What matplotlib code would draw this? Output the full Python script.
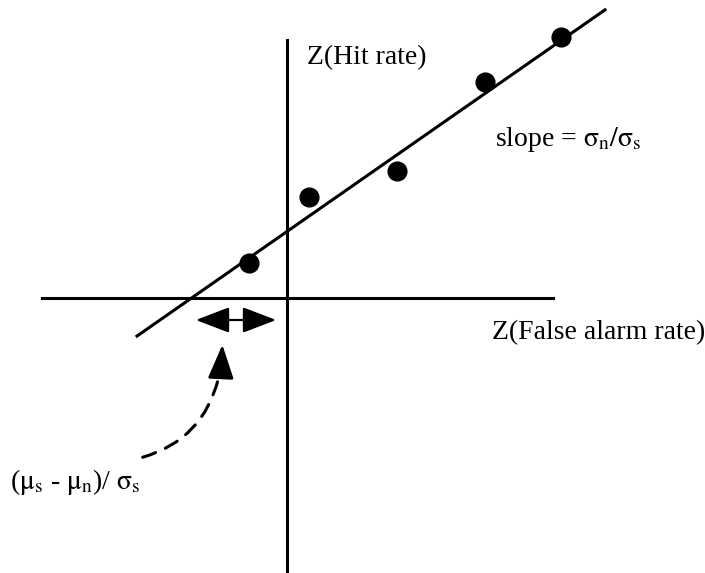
import numpy as np
import matplotlib.pyplot as plt
from matplotlib.patches import FancyArrowPatch

plt.rcParams['font.family'] = 'Liberation Serif'
plt.rcParams['mathtext.fontset'] = 'stix'

# z-scores of (false alarm rate, hit rate) pairs
z_fa = [-0.38, 0.22, 1.10, 1.98, 2.74]
z_hit = [0.35, 1.01, 1.27, 2.16, 2.61]

# fitted ROC line in z coordinates
fit_slope = 0.697
fit_icpt = 0.665
fit_x = [-1.50, 3.18]

fig = plt.figure(figsize=(7.05, 5.73), dpi=100)
ax = fig.add_axes([0, 0, 1, 1])
ax.set_xlim(-2.87, 4.18)
ax.set_ylim(-2.75, 2.98)
ax.axis('off')

# axes cross
ax.plot([-2.45, 2.66], [0, 0], color='black', lw=2.2)
ax.plot([0, 0], [-2.8, 2.58], color='black', lw=2.2)

fx = np.array(fit_x)
ax.plot(fx, fit_slope * fx + fit_icpt, color='black', lw=2.2)
ax.plot(z_fa, z_hit, 'o', color='black', markersize=13.5)

# distance between the line's x-intercept and the origin
arr = FancyArrowPatch((-0.08, -0.22), (-0.94, -0.22),
                      arrowstyle='<|-|>,head_length=21,head_width=8',
                      color='black', lw=1.6, mutation_scale=1)
ax.add_patch(arr)

# dashed pointer from the label up to the arrow
curve = FancyArrowPatch((-1.47, -1.60), (-0.68, -0.78),
                        connectionstyle='arc3,rad=0.3', arrowstyle='-',
                        color='black', lw=2.2, linestyle=(0, (4.5, 3.5)))
ax.add_patch(curve)
head = FancyArrowPatch((-0.66, -0.76), (-0.645, -0.44),
                       arrowstyle='-|>,head_length=21,head_width=8',
                       color='black', lw=2, mutation_scale=1)
ax.add_patch(head)

fs = 20
ax.text(0.20, 2.40, 'Z(Hit rate)', fontsize=fs, va='center')
ax.text(2.08, 1.58, r'slope = $\mathrm{σ}_\mathrm{n}/\mathrm{σ}_\mathrm{s}$', fontsize=fs, va='center')
ax.text(2.05, -0.35, 'Z(False alarm rate)', fontsize=fs, va='center')
ax.text(-2.77, -1.84, r'($\mathrm{μ}_\mathrm{s}$ - $\mathrm{μ}_\mathrm{n}$)/ $\mathrm{σ}_\mathrm{s}$',
        fontsize=fs, va='center')

fig.savefig('out.png', dpi=100)
